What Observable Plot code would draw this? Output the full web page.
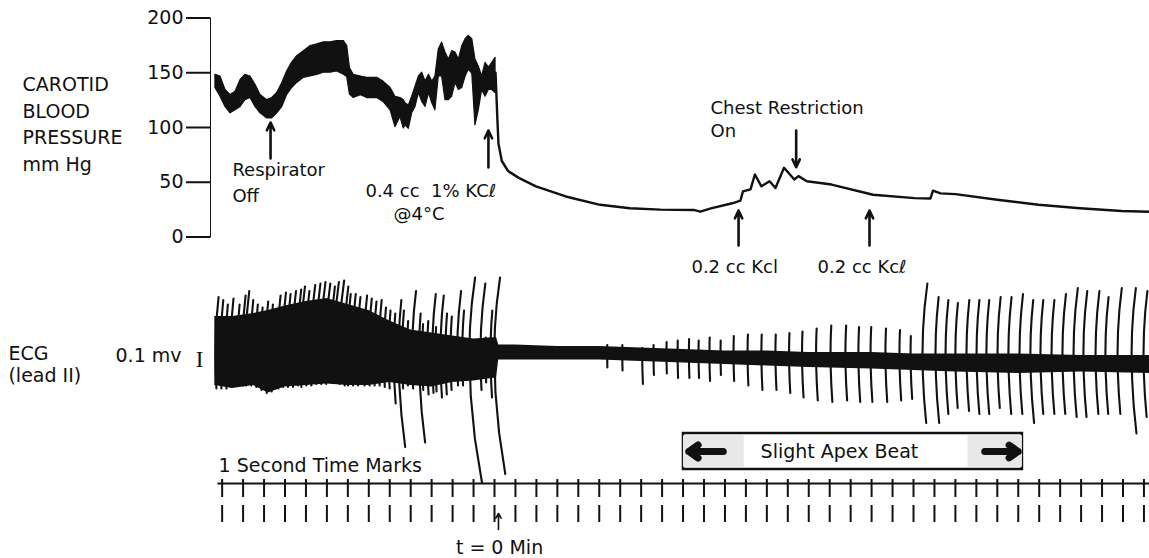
<!DOCTYPE html>
<html><head><meta charset="utf-8">
<script src="https://cdn.jsdelivr.net/npm/d3@7"></script>
<script src="https://cdn.jsdelivr.net/npm/@observablehq/plot@0.6"></script>
<style>
html,body{margin:0;padding:0;background:#fff;}
#chart{position:relative;width:1149px;height:558px;overflow:hidden;background:#fff;}
#chart svg{position:absolute;left:0;top:0;}
</style></head><body><div id="chart"></div>
<script>
// ---------- Carotid blood pressure (mmHg) vs time (s, t = 0 at KCl arrest) ----------
const bpTicks = [0, 50, 100, 150, 200];
const pulseT  = [-13.32,-13.08,-12.84,-12.6,-12.36,-12.12,-11.89,-11.65,-11.41,-11.17,
                 -10.85,-10.61,-10.37,-10.13,-9.9,-9.66,-9.42,-9.1,-8.78,-8.46,
                 -8.15,-7.83,-7.51,-7.19,-7.03,-6.9,-6.72,-6.37,-6.08,-5.6,
                 -5.3,-4.96,-4.73,-4.49,-4.33,-4.25,-4.09,-3.93,-3.77,-3.61,
                 -3.45,-3.29,-3.13,-2.97,-2.82,-2.66,-2.5,-2.34,-2.18,-2.02,
                 -1.86,-1.7,-1.54,-1.38,-1.23,-1.06,-0.91,-0.75,-0.59,-0.43,
                 -0.27,-0.11,0.05];
const pulseHi = [148.1,146.6,134.3,129.6,132.7,143.5,148.1,146.6,139,129.6,
                 125,126.9,131.5,140.7,151.2,159.3,165.1,169.7,174.4,175.9,
                 177.8,177.8,179,179,174.4,154,148.1,146.6,145.4,145.4,
                 141.9,136.1,128.1,126.9,125,122.2,120,128.1,137.3,146.6,
                 150,141.9,148.1,141.9,146.6,171.3,177.5,168.5,162,169.7,
                 168.5,162,174.4,180.6,183.6,180.6,162,155.8,146.6,159,
                 154.6,159,163.6];
const pulseLo = [136.1,128.1,118.8,113,115.7,118.8,125,126.9,118.8,113,
                 108.3,108.3,113,118.8,129.6,136.1,140.7,145.4,146.6,148.1,
                 150,150,151.2,148.1,146,130,126.9,129.6,126.9,126.9,
                 123.4,115.7,100.3,109.5,99.1,101.9,98.8,113,118.8,131.5,
                 123.4,118.8,131.5,122.2,115.7,146.6,146.6,125,125,128.1,
                 140.7,134.3,136,146.6,152.8,149,101.9,115.7,134.3,128.1,
                 134.3,134.3,131.5];
const decayT  = [0.05,0.14,0.19,0.35,0.65,1.16,1.98,3.4,5.04,6.46,
                 7.92,9.51,9.82,10.33,11.35,11.74,11.86,12.22,12.43,12.74,
                 13.13,13.41,13.82,14.31,14.51,14.91,16.09,18.07,20.05,20.81,
                 20.93,21.29,22,24,25.97,27.95,29.93,31.26];
const decayBP = [150,106.5,85.2,69.4,60.2,54,46.3,37,29.4,26.2,
                 25,24.7,23.1,26.2,30.8,33.3,41.7,43.5,57.1,46.3,
                 50.9,44.7,63.2,52.5,55.6,50.9,47.9,38.6,35.5,35.2,
                 42.3,39.8,39.2,34,29.4,26.2,23.8,23.1];

// BP annotations
const noteLabels = ["Respirator","Off","0.4 cc \u00a01% KC\u2113","@4°C","Chest Restriction","On","0.2 cc Kcl","0.2 cc Kc\u2113"];
const noteT      = [-12.51,-12.51,-6.16,-4.82,10.31,10.31,9.4,15.42];
const noteBP     = [60.7,37,42,20.5,117.4,96.3,-27.9,-27.9];
const arrowT     = [-10.69,-0.29,14.4,11.65,17.9];
const arrowFrom  = [71.7,63.5,97.3,-7.8,-7.8];
const arrowTo    = [104.6,97.3,63.7,24.2,24.2];
const bpTitle    = "CAROTID\nBLOOD\nPRESSURE\nmm Hg";

// ---------- ECG (mV) ----------
const bandT  = [-13.35,-12.5,-11.5,-10.8,-10,-9,-8,-7,-6,-5,
                -4,-3,-2,-1,0.1,0.2,1,3,5,7,
                9,11,13,15,18,20,22,25,28,31.3];
const bandLo = [-0.22,-0.24,-0.22,-0.27,-0.23,-0.22,-0.21,-0.22,-0.22,-0.2,
                -0.22,-0.23,-0.2,-0.19,-0.17,-0.05,-0.05,-0.05,-0.05,-0.06,
                -0.07,-0.08,-0.09,-0.1,-0.11,-0.12,-0.13,-0.14,-0.13,-0.14];
const bandHi = [0.24,0.24,0.26,0.28,0.31,0.34,0.36,0.32,0.28,0.21,
                0.15,0.13,0.11,0.09,0.1,0.05,0.05,0.04,0.04,0.03,
                0.02,0.01,0.01,0.0,0.0,-0.01,-0.01,-0.01,-0.02,-0.02];
const beatT = [-13.32,-13.08,-12.84,-12.6,-12.28,-12.04,-11.89,-11.65,-11.41,-11.17,
               -10.93,-10.69,-10.37,-10.13,-9.9,-9.66,-9.42,-9.26,-9.02,-8.78,
               -8.54,-8.31,-8.07,-7.83,-7.67,-7.43,-7.19,-7.03,-6.79,-6.55,
               -6.24,-6.0,-5.76,-5.52,-5.28,-5.05,-4.81,-4.58,-4.41,-4.17,
               -3.93,-3.6,-3.45,-3.21,-2.97,-2.82,-2.58,-2.34,-2.1,-1.78,
               -1.54,-1.2,-0.67,-0.43,-0.19,-0.01,
               5.38,6.1,7.05,7.59,8.21,8.74,9.28,9.74,10.26,10.79,
               11.41,12.08,12.74,13.41,14.06,14.68,15.35,16.04,16.75,17.37,
               17.95,18.66,19.33,19.86,
               20.43,21.05,21.53,22.0,22.53,23.01,23.48,24.01,24.53,25.06,
               25.58,26.06,26.59,27.11,27.64,28.11,28.69,29.16,29.74,30.41,30.98];
const beatUp = [0.37,0.35,0.32,0.36,0.32,0.38,0.41,0.35,0.32,0.30,
                0.34,0.32,0.38,0.40,0.39,0.41,0.42,0.44,0.41,0.45,
                0.46,0.47,0.46,0.44,0.47,0.48,0.44,0.39,0.39,0.37,
                0.38,0.36,0.34,0.35,0.30,0.28,0.26,0.35,0.28,0.21,
                0.41,0.26,0.19,0.21,0.39,0.17,0.38,0.26,0.24,0.41,
                0.28,0.5,0.46,0.10,0.28,0.5,
                0.05,0.05,0.03,0.05,0.07,0.08,0.09,0.08,0.10,0.08,
                0.11,0.12,0.12,0.12,0.13,0.14,0.16,0.18,0.18,0.17,
                0.17,0.16,0.15,0.11,
                0.46,0.37,0.35,0.33,0.35,0.35,0.35,0.37,0.37,0.39,
                0.35,0.35,0.35,0.39,0.43,0.41,0.41,0.37,0.43,0.43,0.41];
const beatDown = [-0.24,-0.24,-0.24,-0.23,-0.22,-0.22,-0.22,-0.22,-0.23,-0.25,
                  -0.27,-0.26,-0.24,-0.23,-0.23,-0.23,-0.22,-0.23,-0.22,-0.22,
                  -0.21,-0.21,-0.21,-0.2,-0.2,-0.21,-0.22,-0.22,-0.22,-0.22,
                  -0.22,-0.22,-0.22,-0.22,-0.23,-0.24,-0.34,-0.63,-0.24,-0.22,
                  -0.24,-0.6,-0.25,-0.28,-0.27,-0.26,-0.3,-0.28,-0.25,-0.22,
                  -0.22,-0.87,-0.25,-0.2,-0.3,-0.81,
                  -0.10,-0.12,-0.21,-0.15,-0.14,-0.17,-0.17,-0.17,-0.19,-0.15,
                  -0.19,-0.22,-0.25,-0.25,-0.27,-0.30,-0.32,-0.33,-0.32,-0.33,
                  -0.33,-0.33,-0.32,-0.31,
                  -0.47,-0.47,-0.41,-0.37,-0.39,-0.41,-0.41,-0.37,-0.41,-0.41,
                  -0.47,-0.41,-0.41,-0.41,-0.43,-0.43,-0.41,-0.41,-0.41,-0.54,-0.43];
const apexSpan  = [9.02, 25.2];
const apexLabel = "Slight Apex Beat";

// ---------- 1-second time marks ----------
const timeMarks = [-13,-12,-11,-10,-9,-8,-7,-6,-5,-4,-3,-2,-1,0,1,2,3,4,5,6,7,8,9,10,
                   11,12,13,14,15,16,17,18,19,20,21,22,23,24,25,26,27,28,29,30,31];

// ---------- build ----------
const pulse = pulseT.map((t,i)=>({t, lo: pulseLo[i], hi: pulseHi[i]}));
const decay = decayT.map((t,i)=>({t, bp: decayBP[i]}));
const notes = noteLabels.map((label,i)=>({label, t: noteT[i], bp: noteBP[i]}));
const bpArrows = arrowT.map((t,i)=>({t, from: arrowFrom[i], to: arrowTo[i]}));
const band = bandT.map((t,i)=>({t, lo: bandLo[i], hi: bandHi[i]}));
// curvilinear pen: stroke tip drifts right with the square of the deflection
const CUP = 1.1, CDOWN = 0.8;
const beatPts = beatT.flatMap((t,i)=>{
  const u = beatUp[i], d = beatDown[i];
  return [d, d*0.66, d*0.33, 0, u*0.33, u*0.66, u].map(a=>({id:i, t: t + (a>0?CUP:CDOWN)*a*a, v:a}));
});

const FONT = "'DejaVu Sans', 'Liberation Sans', sans-serif";
const style = {background:"transparent", fontFamily: FONT, fontSize:"19px", color:"#111", overflow:"visible"};
const xOpt = {domain:[-13,31], range:[221.65,1143.45], axis:null};
const INK = "#111";

const bp = Plot.plot({
  width:1149, height:290, marginTop:17.5, marginBottom:53.5, marginLeft:210, marginRight:0,
  style, x: xOpt,
  y: {domain:[0,200], ticks: bpTicks, tickSize:24, tickPadding:3, line:true, label:null},
  marks:[
    Plot.areaY(pulse, {x:"t", y1:"lo", y2:"hi", fill:INK, stroke:INK, strokeWidth:1.2}),
    Plot.line(decay, {x:"t", y:"bp", stroke:INK, strokeWidth:2.4}),
    Plot.arrow(bpArrows, {x1:"t", x2:"t", y1:"from", y2:"to", stroke:INK, strokeWidth:2.6, headLength:5, headAngle:50}),
    Plot.text(notes, {x:"t", y:"bp", text:"label", textAnchor:"start", fill:INK, fontSize:18}),
    Plot.text([bpTitle], {x:-22.53, y:104.5, text:d=>d, textAnchor:"start", lineHeight:1.4, fill:INK})
  ]
});

const ecg = Plot.plot({
  width:1149, height:558, margin:0, style, x: xOpt,
  y: {domain:[-1,1], range:[502,202], axis:null},
  marks:[
    Plot.areaY(band, {x:"t", y1:"lo", y2:"hi", fill:INK}),
    Plot.line(beatPts, {x:"t", y:"v", z:"id", stroke:INK, strokeWidth:2.1, curve:"linear"}),
    Plot.text(["ECG"], {x:-23.2, y:-0.007, text:d=>d, textAnchor:"start", fill:INK}),
    Plot.text(["(lead II)"], {x:-23.2, y:-0.153, text:d=>d, textAnchor:"start", fill:INK}),
    Plot.text(["0.1 mv"], {x:-18.09, y:-0.02, text:d=>d, textAnchor:"start", fill:INK}),
    Plot.text(["I"], {x:-14.08, y:-0.05, text:d=>d, fontFamily:"'Liberation Serif', serif", fontSize:23, fill:INK}),
    Plot.rect([apexSpan], {x1:d=>d[0], x2:d=>d[1], y1:-0.54, y2:-0.78, fill:"white", stroke:INK, strokeWidth:2.5}),
    Plot.rect([apexSpan], {x1:d=>d[0], x2:d=>d[0]+2.9, y1:-0.555, y2:-0.765, fill:"#e8e8e8"}),
    Plot.rect([apexSpan], {x1:d=>d[1]-2.6, x2:d=>d[1], y1:-0.555, y2:-0.765, fill:"#e8e8e8"}),
    Plot.arrow([apexSpan], {x1:d=>d[0]+1.9, x2:d=>d[0]+0.25, y1:-0.66, y2:-0.66, stroke:INK, strokeWidth:7, headLength:3.2, headAngle:70}),
    Plot.arrow([apexSpan], {x1:d=>d[1]-1.8, x2:d=>d[1]-0.2, y1:-0.66, y2:-0.66, stroke:INK, strokeWidth:7, headLength:3.2, headAngle:70}),
    Plot.text([apexLabel], {x:12.7, y:-0.66, text:d=>d, textAnchor:"start", fill:INK})
  ]
});

const tm = Plot.plot({
  width:1149, height:558, margin:0, style, x: xOpt,
  y: {domain:[0,100], range:[558,458], axis:null},
  marks:[
    Plot.ruleY([75], {x1:d3.min(timeMarks)-0.2, x2:31.3, stroke:INK, strokeWidth:2}),
    Plot.ruleX(timeMarks, {y1:61, y2:79, stroke:INK, strokeWidth:2}),
    Plot.ruleX(timeMarks, {y1:36, y2:53, stroke:INK, strokeWidth:2}),
    Plot.text(["1 Second Time Marks"], {x:-13.17, y:93, text:d=>d, textAnchor:"start", fill:INK}),
    Plot.arrow([0], {x1:0.19, x2:0.19, y1:29, y2:45, stroke:INK, strokeWidth:1.6, headLength:5}),
    Plot.text(["t = 0 Min"], {x:0.24, y:11, text:d=>d, fill:INK})
  ]
});

const host = document.getElementById("chart");
host.append(bp, ecg, tm);
d3.select(bp).selectAll('[aria-label^="y-axis"] line, [aria-label^="y-axis"] path').attr("stroke-width", 2).attr("stroke", INK);
</script></body></html>
